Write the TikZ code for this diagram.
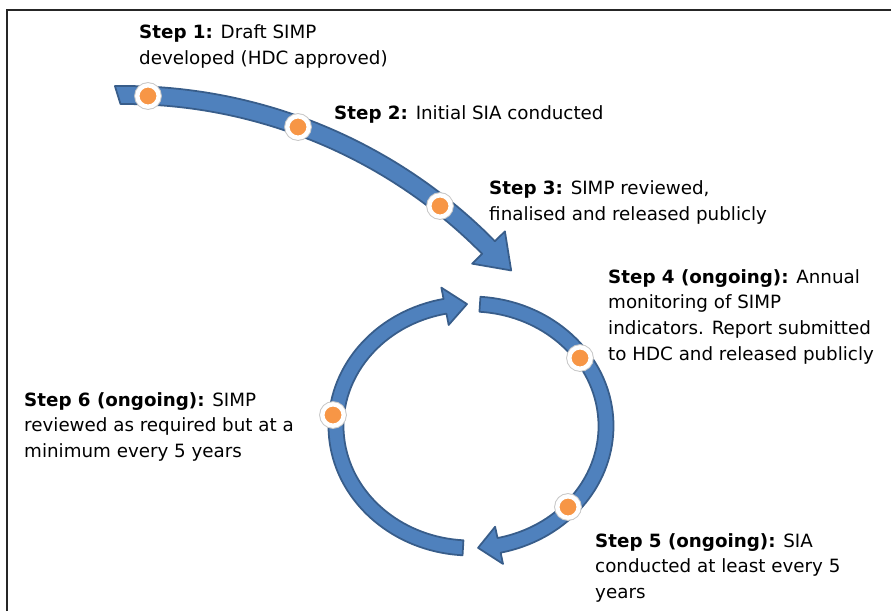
\documentclass[tikz,border=0pt]{standalone}
\usepackage{fontspec}
\setmainfont{DejaVu Sans}
\usepackage{xcolor}
\definecolor{bandfill}{HTML}{4F81BD}
\definecolor{bandline}{HTML}{385D8A}
\definecolor{dotorange}{HTML}{F79646}
\begin{document}
\begin{tikzpicture}[x=0.03cm,y=-0.03cm,
  band/.style={draw=bandline,fill=bandfill,line width=1.5pt,line join=round},
  ring/.style={circle,inner sep=0,minimum size=0.64cm,fill=dotorange,draw=white,line width=0.13cm,
    preaction={draw=black!22,line width=0.19cm}},
  steptext/.style={anchor=base west,inner sep=0,align=left,font=\fontsize{15.6}{21.8}\selectfont}]
  \useasboundingbox (0,0) rectangle (891,611);
  \draw[line width=1.8pt,black!85] (7,611) |- (891,10);
  % curved arrow leading into the cycle
  \begin{scope}[shift={(124,607)}]
    \draw[band] (-91:521) arc[start angle=-91,end angle=-44.6,radius=521]
      -- (-44.6:535) -- (-41:513) -- (-44.6:489) -- (-44.6:503)
      arc[start angle=-44.6,end angle=-90.4,radius=503] -- cycle;
  \end{scope}
  % the two halves of the cycle
  \begin{scope}[shift={(471,426)}]
    \draw[band] (-86.2:142.5 and 129.5) arc[start angle=-86.2,end angle=78,x radius=142.5,y radius=129.5]
      -- (78:154 and 141) -- (87:135 and 122) -- (78:116 and 103) -- (78:127.5 and 114.5)
      arc[start angle=78,end angle=-86.2,x radius=127.5,y radius=114.5] -- cycle;
    \draw[band] (93.4:142.5 and 129.5) arc[start angle=93.4,end angle=258.9,x radius=142.5,y radius=129.5]
      -- (258.9:154 and 141) -- (268.3:135 and 122) -- (258.9:116 and 103) -- (258.9:127.5 and 114.5)
      arc[start angle=258.9,end angle=93.4,x radius=127.5,y radius=114.5] -- cycle;
  \end{scope}
  % step markers
  \foreach \n/\p in {1/{(148,96)},2/{(298,127)},3/{(440,206)},4/{(580,358)},5/{(568,507)},6/{(333,415)}}
    \node[ring] (m\n) at \p {};
  % step texts (placed at the baseline of their last line)
  \node[steptext] (s1) at (139,64) {\textbf{Step 1:} Draft SIMP\\developed (HDC approved)};
  \node[steptext] (s2) at (334,119) {\textbf{Step 2:} Initial SIA conducted};
  \node[steptext] (s3) at (489,220) {\textbf{Step 3:} SIMP reviewed,\\finalised and released publicly};
  \node[steptext] (s4) at (608,360) {\textbf{Step 4 (ongoing):} Annual\\monitoring of SIMP\\indicators. Report submitted\\to HDC and released publicly};
  \node[steptext] (s5) at (595,598.5) {\textbf{Step 5 (ongoing):} SIA\\conducted at least every 5\\years};
  \node[steptext] (s6) at (24,457.5) {\textbf{Step 6 (ongoing):} SIMP\\reviewed as required but at a\\minimum every 5 years};
\end{tikzpicture}
\end{document}
